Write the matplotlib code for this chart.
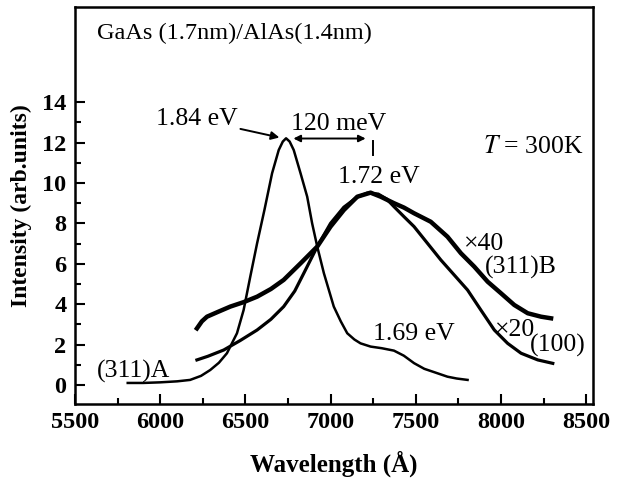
import matplotlib
matplotlib.use("Agg")
import matplotlib.pyplot as plt
from matplotlib.ticker import MultipleLocator

# (311)A curve
wl_a = [5810, 5900, 6000, 6100, 6176, 6240, 6294, 6345, 6392, 6451, 6490, 6529,
        6569, 6612, 6657, 6696, 6720, 6739, 6760, 6784, 6824, 6863, 6892, 6922,
        6961, 7019, 7060, 7098, 7140, 7176, 7235, 7300, 7372, 7430, 7490, 7550,
        7620, 7686, 7740, 7804]
int_a = [0.10, 0.10, 0.13, 0.18, 0.25, 0.45, 0.74, 1.10, 1.57, 2.56, 3.71, 5.36,
         7.01, 8.66, 10.48, 11.63, 12.05, 12.21, 12.05, 11.63, 10.48, 9.32, 8.00, 6.85,
         5.53, 3.88, 3.15, 2.56, 2.25, 2.06, 1.90, 1.82, 1.70, 1.45, 1.08, 0.80,
         0.60, 0.41, 0.32, 0.25]

# (311)B curve (x40)
wl_b = [6216, 6245, 6275, 6340, 6412, 6490, 6569, 6650, 6725, 6824, 6922, 7000,
        7078, 7157, 7235, 7294, 7372, 7431, 7490, 7588, 7686, 7765, 7843, 7922,
        8000, 8078, 8157, 8235, 8294]
int_b = [2.80, 3.15, 3.38, 3.62, 3.88, 4.10, 4.37, 4.75, 5.20, 6.02, 6.85, 7.84,
         8.66, 9.32, 9.52, 9.32, 9.00, 8.78, 8.50, 8.08, 7.34, 6.52, 5.86, 5.11,
         4.54, 3.96, 3.55, 3.38, 3.30]

# (100) curve (x20)
wl_c = [6216, 6280, 6373, 6470, 6569, 6650, 6725, 6790, 6843, 6922, 7000, 7078,
        7157, 7216, 7280, 7330, 7372, 7431, 7490, 7569, 7647, 7725, 7804, 7882,
        7961, 8039, 8118, 8216, 8304]
int_c = [1.24, 1.42, 1.73, 2.20, 2.72, 3.25, 3.88, 4.65, 5.53, 6.85, 8.00, 8.80,
         9.30, 9.50, 9.45, 9.20, 8.83, 8.33, 7.84, 7.01, 6.19, 5.45, 4.70, 3.71,
         2.72, 2.06, 1.57, 1.24, 1.07]

x_ticks = [5500, 6000, 6500, 7000, 7500, 8000, 8500]
y_ticks = [0, 2, 4, 6, 8, 10, 12, 14]
y_minor = [1, 3, 5, 7, 9, 11, 13]

plt.rcParams['font.family'] = ['Liberation Serif', 'DejaVu Serif']
plt.rcParams['mathtext.fontset'] = 'stix'

fig = plt.figure(figsize=(6.19, 4.80), dpi=100)
ax = fig.add_axes([0.121, 0.158, 0.837, 0.827])

ax.plot(wl_a, int_a, color='black', linewidth=1.8)
ax.plot(wl_b, int_b, color='black', linewidth=3.2)
ax.plot(wl_c, int_c, color='black', linewidth=2.3)

ax.set_xlim(5500, 8540)
ax.set_ylim(-0.95, 18.7)
ax.set_xticks(x_ticks)
ax.set_yticks(y_ticks)
ax.xaxis.set_minor_locator(MultipleLocator(250))
ax.set_yticks(y_minor, minor=True)
ax.tick_params(which='both', direction='in', top=False, right=False,
               labelsize=17.5, width=1.5)
ax.tick_params(which='major', length=7, pad=6)
ax.tick_params(which='minor', length=4)
for lab in ax.get_xticklabels() + ax.get_yticklabels():
    lab.set_fontweight('bold')
for s in ax.spines.values():
    s.set_linewidth(1.8)

ax.set_xlabel('Wavelength (Å)', fontsize=18, fontweight='bold', labelpad=12)
ax.set_ylabel('Intensity (arb.units)', fontsize=17, fontweight='bold', labelpad=7)

fs = 18.5
ax.text(5630, 17.4, 'GaAs (1.7nm)/AlAs(1.4nm)', fontsize=17.5, va='center')
ax.annotate('1.84 eV', xy=(6700, 12.25), xytext=(6455, 13.15), fontsize=fs,
            ha='right', va='center',
            arrowprops=dict(arrowstyle='-|>', color='black', lw=1.4,
                            mutation_scale=12, shrinkA=0, shrinkB=0))
ax.annotate('', xy=(6782, 12.2), xytext=(7206, 12.2),
            arrowprops=dict(arrowstyle='<|-|>', color='black', lw=1.4,
                            mutation_scale=10, shrinkA=0, shrinkB=0))
ax.text(7045, 12.9, '120 meV', fontsize=fs, ha='center', va='center')
ax.plot([7247, 7247], [12.1, 11.4], color='black', linewidth=1.4)
ax.text(8482, 11.8, r'$T$ = 300K', fontsize=fs, ha='right', va='center')
ax.text(7282, 10.3, '1.72 eV', fontsize=fs, ha='center', va='center')
ax.text(7782, 7.0, '×40', fontsize=fs, va='center')
ax.text(7905, 5.8, '(311)B', fontsize=fs, va='center')
ax.text(7965, 2.72, '×20', fontsize=fs, va='center')
ax.text(8170, 1.95, '(100)', fontsize=fs, va='center')
ax.text(7247, 2.5, '1.69 eV', fontsize=fs, va='center')
ax.text(5630, 0.65, '(311)A', fontsize=fs, va='center')

fig.savefig('out.png', dpi=100)
